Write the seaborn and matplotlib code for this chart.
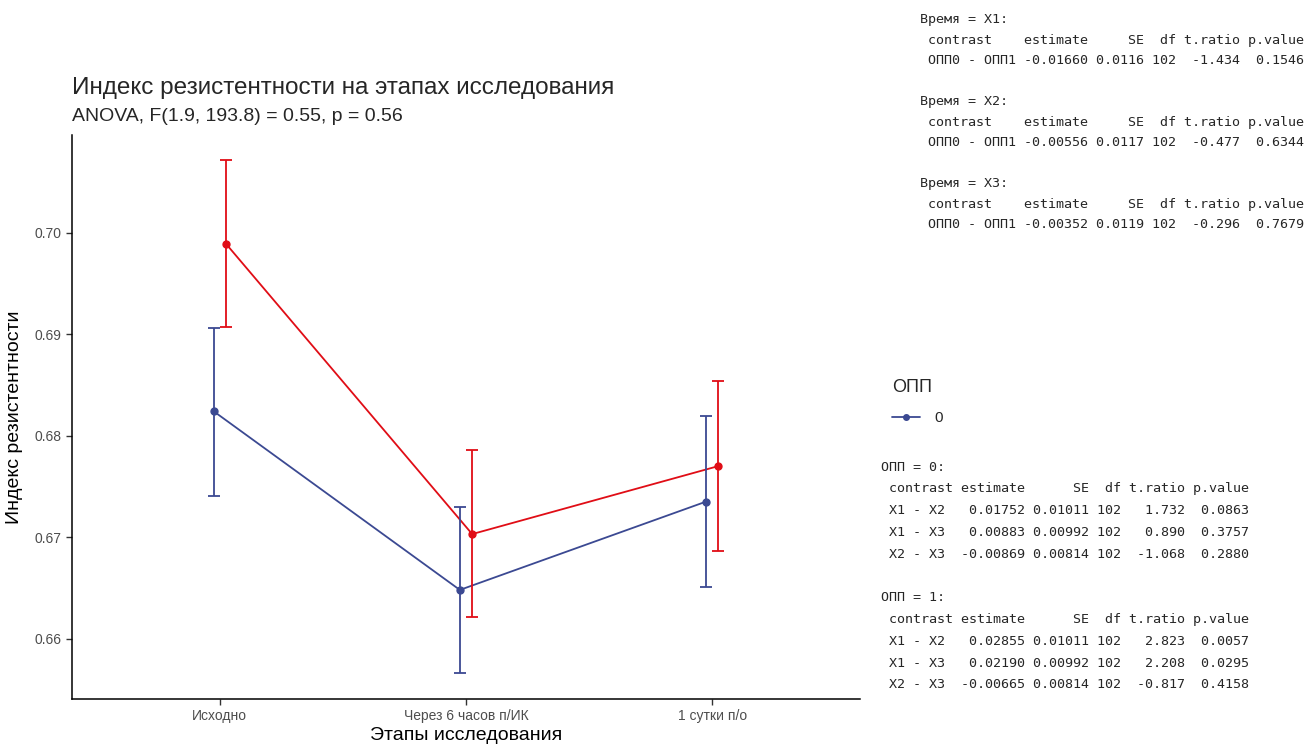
import pandas as pd
import matplotlib
matplotlib.use('Agg')
import matplotlib.pyplot as plt
import seaborn as sns
from matplotlib.lines import Line2D

# DATA
stages = ['Исходно', 'Через 6 часов п/ИК', '1 сутки п/о']
opp_levels = ['0', '1']
opp0_mean = [0.6824, 0.6648, 0.6735]
opp0_low = [0.6741, 0.6566, 0.6651]
opp0_high = [0.6906, 0.6730, 0.6819]
opp1_mean = [0.6989, 0.6703, 0.6770]
opp1_low = [0.6907, 0.6621, 0.6686]
opp1_high = [0.7071, 0.6786, 0.6854]

title = 'Индекс резистентности на этапах исследования'
subtitle = 'ANOVA, F(1.9, 193.8) = 0.55, p = 0.56'

top_lines = [
    'Время = X1:',
    ' contrast    estimate     SE  df t.ratio p.value',
    ' ОПП0 - ОПП1 -0.01660 0.0116 102  -1.434  0.1546',
    '',
    'Время = X2:',
    ' contrast    estimate     SE  df t.ratio p.value',
    ' ОПП0 - ОПП1 -0.00556 0.0117 102  -0.477  0.6344',
    '',
    'Время = X3:',
    ' contrast    estimate     SE  df t.ratio p.value',
    ' ОПП0 - ОПП1 -0.00352 0.0119 102  -0.296  0.7679',
]
bottom_lines = [
    'ОПП = 0:',
    ' contrast estimate      SE  df t.ratio p.value',
    ' X1 - X2   0.01752 0.01011 102   1.732  0.0863',
    ' X1 - X3   0.00883 0.00992 102   0.890  0.3757',
    ' X2 - X3  -0.00869 0.00814 102  -1.068  0.2880',
    '',
    'ОПП = 1:',
    ' contrast estimate      SE  df t.ratio p.value',
    ' X1 - X2   0.02855 0.01011 102   2.823  0.0057',
    ' X1 - X3   0.02190 0.00992 102   2.208  0.0295',
    ' X2 - X3  -0.00665 0.00814 102  -0.817  0.4158',
]

colors = {'0': '#3B4992', '1': '#E00D16'}

df = pd.DataFrame({
    'stage': stages * 2,
    'opp': ['0'] * 3 + ['1'] * 3,
    'mean': opp0_mean + opp1_mean,
    'low': opp0_low + opp1_low,
    'high': opp0_high + opp1_high,
})

sns.set_style('white')
plt.rcParams['font.family'] = ['Liberation Sans', 'DejaVu Sans']

fig = plt.figure(figsize=(13.07, 7.45), dpi=100)
ax = fig.add_axes([0.0551, 0.062, 0.6029, 0.757])

sns.pointplot(data=df, x='stage', y='mean', hue='opp', order=stages, hue_order=opp_levels,
              palette=colors, dodge=True, errorbar=None, markers='o', markersize=5,
              linewidth=1.3, ax=ax, legend=False)

# error bars at the dodged positions seaborn used
for line, lev in zip(ax.lines[:len(opp_levels)], opp_levels):
    sub = df[df['opp'] == lev].set_index('stage').loc[stages]
    xs = line.get_xdata()
    ax.errorbar(xs, sub['mean'], yerr=[sub['mean'] - sub['low'], sub['high'] - sub['mean']],
                fmt='none', ecolor=colors[lev], elinewidth=1.3, capsize=4.3, capthick=1.3)

lo, hi = df['low'].min(), df['high'].max()
pad = 0.05 * (hi - lo)
ax.set_ylim(lo - pad, hi + pad)
ax.set_xlim(-0.6, len(stages) - 0.4)
ax.set_yticks([0.66, 0.67, 0.68, 0.69, 0.70])
ax.set_yticklabels(['0.66', '0.67', '0.68', '0.69', '0.70'])

for s in ['top', 'right']:
    ax.spines[s].set_visible(False)
for s in ['left', 'bottom']:
    ax.spines[s].set_color('black')
    ax.spines[s].set_linewidth(1.1)
ax.tick_params(axis='both', length=4.5, width=1, color='#333333', labelcolor='#4D4D4D',
               labelsize=10, left=True, bottom=True, pad=3)

ax.set_xlabel('Этапы исследования', fontsize=14, color='black', labelpad=3)
ax.set_ylabel('Индекс резистентности', fontsize=14, color='black', labelpad=8)

fig.text(0.0551, 0.882, title, fontsize=17.5, ha='left', va='center')
fig.text(0.0551, 0.844, subtitle, fontsize=14, ha='left', va='center')

# legend (only level 0 visible in the reference)
handles = [Line2D([0], [0], color=colors['0'], marker='o', markersize=4, linewidth=1.3)]
leg = fig.legend(handles=handles, labels=['0'], title='ОПП', loc='upper left',
                 bbox_to_anchor=(0.672, 0.51), frameon=False, fontsize=11,
                 title_fontsize=13, handlelength=1.8, handletextpad=1.0,
                 labelspacing=1.0, alignment='left')

mono = ['DejaVu Sans Mono']
step = 20.5 / 745
for i, t in enumerate(top_lines):
    fig.text(920 / 1307, 1 - 20 / 745 - i * step, t, family=mono, fontsize=9.6, va='center', ha='left')
step = 21.8 / 745
for i, t in enumerate(bottom_lines):
    fig.text(881 / 1307, 1 - 467 / 745 - i * step, t, family=mono, fontsize=9.6, va='center', ha='left')

fig.savefig('out.png', dpi=100)
